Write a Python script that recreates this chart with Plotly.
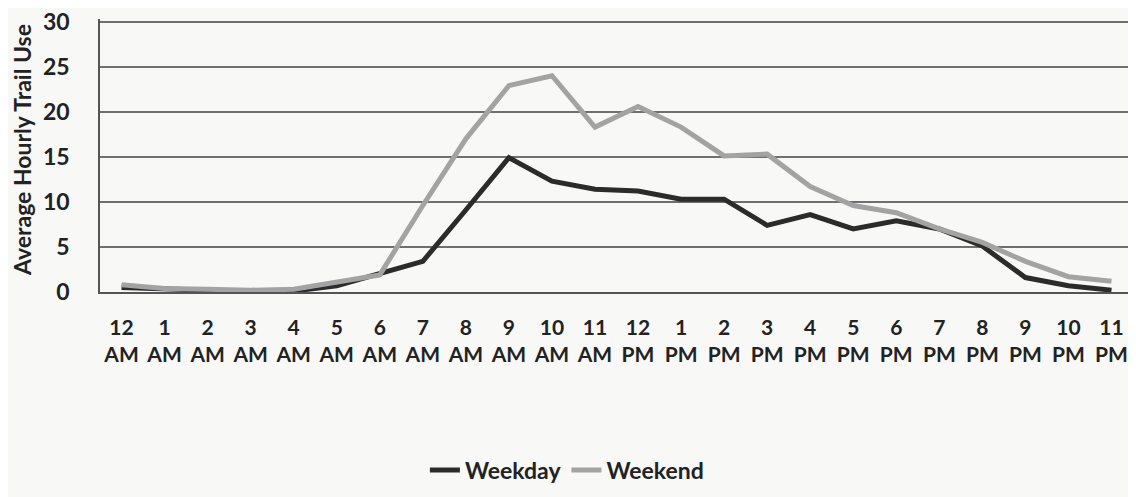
import plotly.graph_objects as go

hours = ["12 AM", "1 AM", "2 AM", "3 AM", "4 AM", "5 AM", "6 AM", "7 AM", "8 AM", "9 AM", "10 AM", "11 AM",
         "12 PM", "1 PM", "2 PM", "3 PM", "4 PM", "5 PM", "6 PM", "7 PM", "8 PM", "9 PM", "10 PM", "11 PM"]
tick_labels = [h.replace(" ", "<br>") for h in hours]
y_ticks = [0, 5, 10, 15, 20, 25, 30]

weekday = [0.5, 0.3, 0.2, 0.1, 0.1, 0.7, 2.0, 3.4, 9.1, 14.9, 12.3, 11.4,
           11.2, 10.3, 10.3, 7.4, 8.6, 7.0, 7.9, 7.0, 5.1, 1.6, 0.7, 0.2]
weekend = [0.8, 0.4, 0.3, 0.2, 0.3, 1.1, 1.9, 9.6, 17.0, 22.9, 24.0, 18.3,
           20.6, 18.3, 15.1, 15.3, 11.7, 9.6, 8.8, 7.0, 5.5, 3.4, 1.7, 1.2]

font_family = "Lato, 'Open Sans', sans-serif"
txt = "#222222"

fig = go.Figure()
fig.add_trace(go.Scatter(x=hours, y=weekday, mode="lines", name="Weekday",
                         line=dict(color="#2b2b2b", width=5)))
fig.add_trace(go.Scatter(x=hours, y=weekend, mode="lines", name="Weekend",
                         line=dict(color="#a3a3a3", width=5)))

fig.update_layout(
    width=1136, height=497,
    margin=dict(l=92, r=11, t=11, b=213, autoexpand=False),
    paper_bgcolor="#f8f8f6", plot_bgcolor="#f8f8f6",
    font=dict(family=font_family, size=20, color=txt),
    showlegend=True,
    legend=dict(orientation="h", x=0.452, xanchor="center", y=-0.652, yanchor="middle",
                font=dict(size=23, color=txt, weight="bold"),
                bgcolor="rgba(0,0,0,0)"),
    xaxis=dict(type="category", tickmode="array", tickvals=hours, ticktext=tick_labels,
               showgrid=False, showline=True, linecolor="#555555", linewidth=1.5,
               zeroline=False, ticks="", automargin=False,
               ticklabelstandoff=16,
               tickfont=dict(size=21, weight="bold", color=txt),
               range=[-0.5, 23.5]),
    yaxis=dict(range=[0, 30.3], tickmode="array", tickvals=y_ticks,
               showgrid=True, gridcolor="#6f6f6f", gridwidth=1.5,
               showline=True, linecolor="#555555", linewidth=1.5, zeroline=False,
               ticks="outside", ticklen=24, tickcolor="rgba(0,0,0,0)",
               ticklabeloverflow="allow", automargin=False,
               tickfont=dict(size=23, weight="bold", color=txt)),
    annotations=[dict(text="<b>Average Hourly Trail Use</b>", textangle=-90,
                      xref="paper", yref="paper", x=0, y=0.52, xshift=-78,
                      xanchor="center", yanchor="middle", showarrow=False,
                      font=dict(size=23, color=txt))],
)
fig.write_html("out.html")
